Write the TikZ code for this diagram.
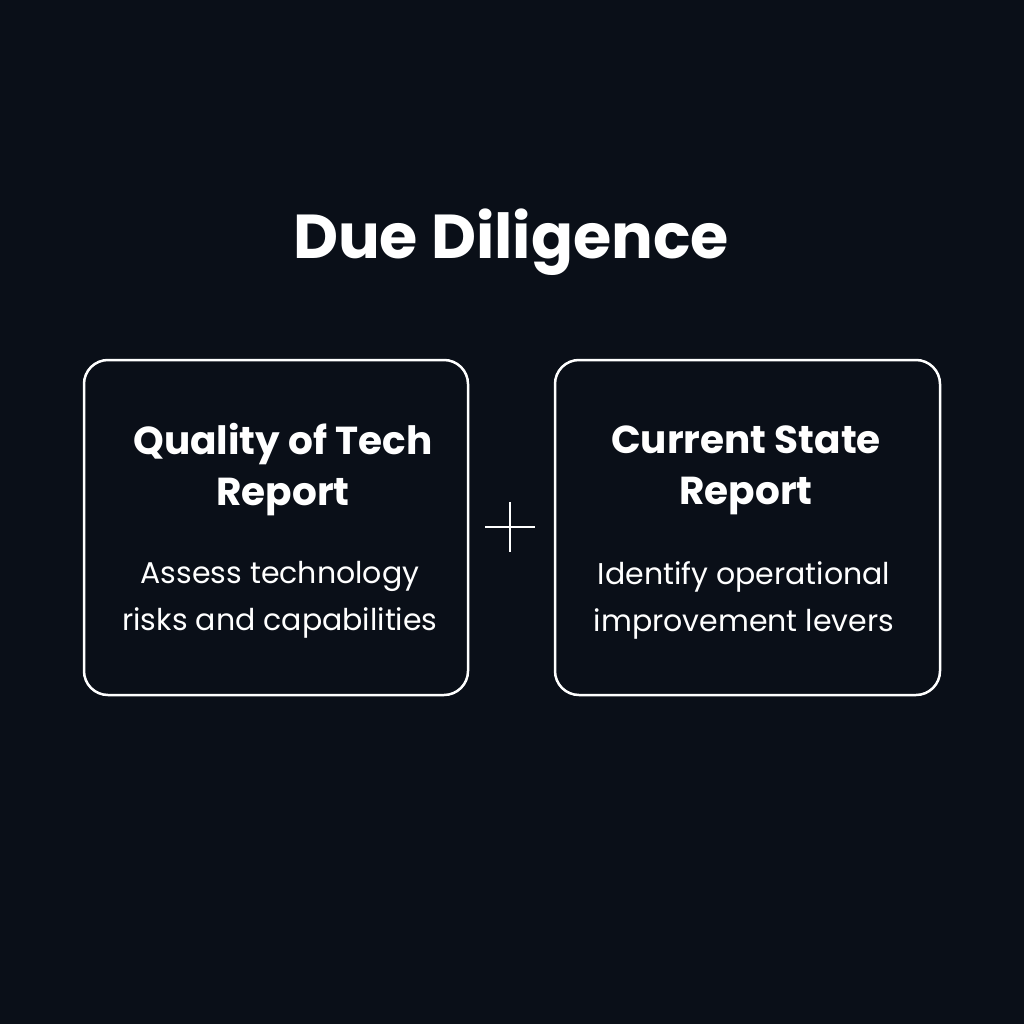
\documentclass[tikz,border=0pt]{standalone}
\usepackage{fontspec}
\setmainfont{Poppins}
\definecolor{bg}{HTML}{0A0F18}
\begin{document}
\begin{tikzpicture}[x=1pt,y=-1pt,
  card/.style={draw=white,line width=2.5pt,rounded corners=24pt},
  ttl/.style={text=white,font=\fontsize{39}{51}\selectfont\bfseries,align=center},
  sub/.style={text=white,font=\fontsize{30}{47}\selectfont,align=center}]
\fill[bg] (0,0) rectangle (1024,1024);
\useasboundingbox (0,0) rectangle (1024,1024);
\node[text=white,font=\fontsize{62}{70}\selectfont\bfseries] (title) at (511,242) {Due Diligence};
\draw[card] (84,360) rectangle (468,695);
\draw[card] (555,360) rectangle (940,695);
\node[ttl] (t1) at (283,470) {Quality of Tech\\Report};
\node[ttl] (t2) at (746,470) {Current State\\Report};
\node[sub] (s1) at (280,600) {Assess technology\\risks and capabilities};
\node[sub] (s2) at (744,600) {Identify operational\\improvement levers};
\draw[white,line width=1.8pt] (485,527) -- (535,527) (510,502) -- (510,552);
\end{tikzpicture}
\end{document}
